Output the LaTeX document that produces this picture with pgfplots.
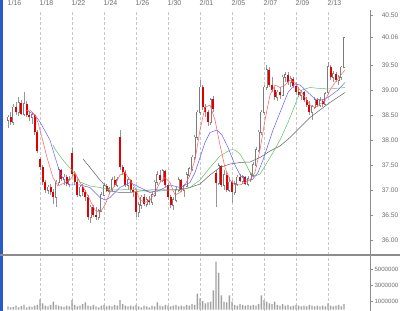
\documentclass[border=0pt]{standalone}
\usepackage{pgfplots}
\pgfplotsset{compat=1.18}
\usepackage{pgfplotstable}
\usepackage{fontspec}
\setmainfont{Liberation Sans}
\definecolor{candleRed}{RGB}{228,0,0}
\definecolor{wick}{RGB}{150,150,150}
\definecolor{upline}{RGB}{125,125,125}
\definecolor{maR}{RGB}{255,100,100}
\definecolor{maB}{RGB}{100,100,255}
\definecolor{maG}{RGB}{100,190,100}
\definecolor{maK}{RGB}{95,95,95}
\definecolor{gridc}{RGB}{200,200,200}
\definecolor{axc}{RGB}{140,140,140}
\definecolor{labc}{RGB}{110,110,110}
\definecolor{volc}{RGB}{160,160,160}
\definecolor{border}{RGB}{40,90,200}

\pgfplotstableread{
i o h l c v
0 38.40 38.50 38.24 38.45 0.40
1 38.45 38.55 38.30 38.35 0.30
2 38.35 38.72 38.30 38.65 0.35
3 38.65 38.75 38.50 38.55 0.50
4 38.55 38.86 38.48 38.74 0.30
5 38.74 38.80 38.50 38.52 0.45
6 38.52 38.96 38.48 38.72 0.60
7 38.72 38.78 38.45 38.50 0.30
8 38.50 38.58 38.38 38.45 0.40
9 38.45 38.55 38.32 38.50 0.35
10 38.50 38.52 38.10 38.15 0.50
11 38.15 38.20 37.74 37.78 0.60
12 37.62 37.66 37.40 37.45 1.30
13 37.45 37.50 37.10 37.15 0.80
14 37.15 37.20 36.94 37.00 0.50
15 37.00 37.10 36.92 37.05 0.40
16 37.05 37.12 36.90 36.95 0.60
17 36.95 37.02 36.72 36.85 1.00
18 36.85 37.20 36.66 37.15 0.60
19 37.15 37.46 37.10 37.40 0.50
20 37.40 37.42 37.18 37.22 0.40
21 37.22 37.32 37.10 37.25 0.35
22 37.25 37.30 37.08 37.12 0.50
23 37.12 37.28 37.05 37.20 0.40
24 37.74 37.84 37.28 37.32 1.20
25 37.32 37.38 37.10 37.15 0.60
26 37.15 37.22 36.85 36.90 0.40
27 36.90 37.10 36.85 37.05 0.50
28 37.05 37.12 36.88 36.95 0.70
29 36.95 37.00 36.78 36.85 0.90
30 36.85 36.90 36.40 36.45 0.50
31 36.45 36.70 36.34 36.65 0.40
32 36.65 36.70 36.45 36.50 0.60
33 36.50 36.66 36.40 36.45 0.40
34 36.45 36.62 36.40 36.58 0.30
35 36.58 36.95 36.55 36.90 0.50
36 36.90 37.14 36.88 37.08 0.60
37 37.08 37.12 36.95 36.98 0.40
38 36.98 37.05 36.92 37.02 0.50
39 37.02 37.26 36.98 37.20 0.40
40 37.20 37.28 37.05 37.10 0.60
41 37.10 37.25 37.05 37.20 0.50
42 38.06 38.20 37.40 37.45 1.20
43 37.45 37.50 37.30 37.35 0.70
44 37.35 37.40 37.05 37.10 0.50
45 37.10 37.25 37.00 37.20 0.40
46 37.20 37.22 36.95 37.00 0.50
47 37.00 37.05 36.85 36.95 0.40
48 36.95 37.00 36.46 36.55 0.60
49 36.55 36.75 36.46 36.70 0.40
50 36.70 36.90 36.62 36.85 0.30
51 36.85 36.92 36.68 36.72 0.50
52 36.72 36.85 36.66 36.80 0.40
53 36.80 36.88 36.70 36.75 0.30
54 36.75 36.95 36.70 36.90 0.50
55 36.90 37.20 36.85 37.15 0.40
56 37.15 37.38 37.10 37.30 0.90
57 37.30 37.40 37.15 37.20 0.50
58 37.20 37.42 37.15 37.38 0.40
59 37.38 37.40 37.05 37.10 0.60
60 37.10 37.14 36.80 36.85 0.50
61 36.85 36.90 36.64 36.70 0.40
62 36.70 36.85 36.60 36.80 0.50
63 36.80 37.05 36.75 37.00 0.60
64 37.00 37.26 36.95 37.20 0.40
65 37.20 37.22 36.95 37.00 0.50
66 37.00 37.12 36.86 37.08 0.40
67 37.08 37.35 37.05 37.30 0.60
68 37.30 37.46 37.25 37.42 0.50
69 37.42 37.70 37.38 37.65 0.70
70 37.65 38.10 37.60 38.05 0.60
71 38.05 38.60 38.00 38.55 2.00
72 38.55 39.20 38.50 39.05 1.40
73 39.05 39.10 38.60 38.65 1.10
74 38.65 38.72 38.45 38.55 0.80
75 38.55 38.60 38.28 38.35 0.90
76 38.35 38.84 38.30 38.80 1.00
77 38.82 38.88 38.55 38.62 2.40
78 37.34 37.40 36.66 37.14 6.00
79 37.14 37.54 37.10 37.48 4.60
80 37.48 37.50 37.05 37.10 1.80
81 37.10 37.40 37.00 37.30 1.00
82 37.30 37.35 36.95 37.00 0.90
83 37.00 37.25 36.95 37.15 1.80
84 37.15 37.20 36.74 36.95 1.00
85 36.95 37.18 36.90 37.12 0.60
86 37.12 37.30 37.08 37.25 0.50
87 37.25 37.32 37.15 37.18 0.70
88 37.18 37.30 37.12 37.26 0.60
89 37.26 37.28 37.10 37.12 0.50
90 37.12 37.28 37.08 37.22 0.60
91 37.22 37.35 37.15 37.30 0.50
92 37.30 37.55 37.25 37.50 0.60
93 37.50 37.85 37.45 37.80 0.50
94 37.80 38.20 37.75 38.15 0.70
95 38.15 38.60 38.10 38.55 1.80
96 38.55 39.10 38.50 39.05 1.20
97 39.05 39.50 39.00 39.40 1.00
98 39.40 39.45 39.05 39.10 0.80
99 39.10 39.25 38.95 39.00 0.70
100 39.00 39.05 38.80 38.85 1.00
101 38.85 39.00 38.78 38.95 0.60
102 38.95 39.05 38.82 38.90 0.50
103 38.90 39.30 38.88 39.25 0.70
104 39.25 39.36 39.15 39.30 0.50
105 39.30 39.35 39.10 39.15 0.60
106 39.15 39.28 39.05 39.22 0.40
107 39.22 39.26 39.04 39.08 0.50
108 39.08 39.16 38.90 38.95 0.60
109 38.95 39.05 38.85 38.90 0.50
110 38.90 39.00 38.80 38.95 0.40
111 38.95 38.98 38.75 38.80 0.50
112 38.80 38.85 38.66 38.70 0.40
113 38.70 38.78 38.50 38.55 0.60
114 38.55 38.70 38.40 38.66 0.50
115 38.66 38.86 38.62 38.80 0.40
116 38.80 38.84 38.66 38.70 0.50
117 38.70 38.85 38.66 38.78 0.40
118 38.78 38.82 38.66 38.72 0.50
119 38.72 38.96 38.70 38.92 0.40
120 38.95 39.55 38.92 39.46 0.80
121 39.46 39.50 39.20 39.25 0.50
122 39.25 39.38 39.15 39.32 0.40
123 39.32 39.36 39.15 39.20 0.50
124 39.20 39.30 39.10 39.25 0.60
125 39.25 39.48 39.20 39.45 0.40
126 39.46 40.06 39.44 40.04 0.70
}\candles

\begin{document}
\begin{tikzpicture}[x=1pt,y=1pt]
\useasboundingbox (0,0) rectangle (400,311);
\begin{axis}[
  at={(3pt,56pt)}, anchor=south west, scale only axis,
  width=367pt, height=245pt,
  xmin=-1.875, xmax=135.75, ymin=35.7, ymax=40.6,
  axis y line*=right, axis x line*=top,
  x axis line style={draw=none},
  y axis line style={draw=axc, line width=0.8pt},
  xtick={12,24,...,120},
  xticklabels={1/18,1/22,1/24,1/26,1/30,2/01,2/05,2/07,2/09,2/13},
  extra x ticks={0}, extra x tick labels={1/16},
  extra x tick style={grid=none},
  xtick style={draw=none},
  xticklabel style={anchor=south west, inner sep=0pt, yshift=1.5pt, xshift=-0.5pt,
    font=\fontsize{7}{7}\selectfont, text=labc},
  xmajorgrids,
  grid style={gridc, dash pattern=on 3pt off 2pt, line width=0.5pt},
  ytick={36,36.5,37,37.5,38,38.5,39,39.5,40.06,40.5},
  yticklabels={36.00,36.50,37.00,37.50,38.00,38.50,39.00,39.50,40.06,40.50},
  ymajorgrids=false,
  ytick style={draw=axc, line width=0.5pt},
  tick align=outside, major tick length=3pt,
  yticklabel style={anchor=east, inner sep=0pt, xshift=25.5pt,
    font=\fontsize{6.6}{7}\selectfont, text=labc},
  clip=true,
]
% wicks
\addplot[draw=none, forget plot, error bars/.cd, y dir=plus, y explicit, error mark=none,
  error bar style={draw=wick, line width=0.55pt, solid}]
  table[x=i, y=l, y error plus expr={\thisrow{h}-\thisrow{l}}] {\candles};
% up candle outlines
\addplot[draw=none, forget plot, error bars/.cd, y dir=plus, y explicit, error mark=none,
  error bar style={draw=upline, line width=2.1pt, solid}]
  table[x=i, y expr={\thisrow{o}-0.012},
    y error plus expr={\thisrow{c}>\thisrow{o} ? \thisrow{c}-\thisrow{o}+0.024 : 0}] {\candles};
% up candle fill
\addplot[draw=none, forget plot, error bars/.cd, y dir=plus, y explicit, error mark=none,
  error bar style={draw=white, line width=1.0pt, solid}]
  table[x=i, y=o,
    y error plus expr={\thisrow{c}>\thisrow{o} ? \thisrow{c}-\thisrow{o} : 0}] {\candles};
% down candles
\addplot[draw=none, forget plot, error bars/.cd, y dir=plus, y explicit, error mark=none,
  error bar style={draw=candleRed, line width=2.1pt, solid}]
  table[x=i, y=c,
    y error plus expr={\thisrow{o}>\thisrow{c} ? \thisrow{o}-\thisrow{c} : 0}] {\candles};
% moving averages
\addplot[maK, line width=0.5pt] coordinates {(28.125,37.62)(30.75,37.45)(34.5,37.2)(38.25,36.98)(42,36.95)(45.75,36.95)(49.5,36.98)(53.25,37.0)(57,37.0)(60.75,37.0)(64.5,37.0)(68.25,37.05)(72,37.12)(75.75,37.3)(79.5,37.45)(83.25,37.52)(87,37.55)(90.75,37.56)(94.5,37.65)(98.25,37.78)(102,37.88)(105.75,38.05)(109.5,38.25)(113.25,38.45)(117,38.6)(120.75,38.75)(126.375,38.95)};
\addplot[maG, line width=0.5pt] coordinates {(16.875,37.9)(17.625,37.82)(19.5,37.68)(21.375,37.55)(23.25,37.44)(25.125,37.32)(27,37.16)(30.75,37.08)(34.5,37.05)(38.25,37.0)(42,37.0)(45.75,37.02)(49.5,37.0)(53.25,36.96)(57,36.98)(60.75,37.0)(64.5,37.0)(68.25,37.05)(72,37.2)(75.75,37.45)(79.5,37.68)(83.25,37.8)(85.125,37.8)(87,37.72)(88.875,37.55)(90.75,37.35)(92.625,37.28)(94.5,37.32)(96.375,37.48)(98.25,37.65)(100.125,37.82)(102,38.0)(105,38.35)(107.625,38.7)(108.75,38.86)(110.25,39.0)(113.25,39.05)(117,39.03)(120.75,39.02)(126.375,39.05)};
\addplot[maB, line width=0.5pt] coordinates {(7.5,38.58)(10.125,38.5)(12,38.36)(15.75,38.0)(17.625,37.66)(19.5,37.34)(21.375,37.16)(23.25,37.1)(27,37.1)(30.75,37.05)(32.625,36.95)(34.5,36.85)(36.375,36.8)(38.25,36.85)(40.125,36.95)(42,37.05)(45.75,37.15)(49.5,37.05)(53.25,36.95)(57,37.0)(60.75,37.1)(64.5,37.05)(68.25,37.15)(70.125,37.35)(72,37.65)(73.875,37.95)(75.75,38.15)(78.375,38.2)(80.25,38.1)(82.5,37.85)(85.125,37.5)(87,37.3)(88.875,37.2)(91.5,37.2)(93.75,37.35)(95.625,37.6)(97.5,37.9)(99.375,38.2)(102,38.55)(105,38.95)(107.625,39.12)(109.5,39.1)(112.5,38.95)(115.125,38.82)(117.75,38.8)(120.75,38.88)(123.75,39.0)(126.375,39.15)};
\addplot[maR, line width=0.5pt] coordinates {(6.375,38.58)(8.25,38.6)(10.125,38.5)(11.25,38.35)(12.75,38.05)(14.625,37.65)(16.875,37.25)(18.75,37.08)(20.25,37.12)(23.25,37.2)(25.125,37.35)(27,37.15)(28.875,37.0)(30.75,36.8)(32.625,36.6)(34.5,36.55)(36.375,36.7)(38.25,36.95)(40.125,37.1)(42,37.3)(43.875,37.35)(45.75,37.2)(47.625,37.05)(49.5,36.8)(51.375,36.75)(53.25,36.8)(55.125,36.95)(57,37.15)(58.875,37.25)(60.75,37.15)(62.625,36.9)(64.5,36.95)(66.375,37.1)(68.25,37.3)(70.125,37.6)(72,38.2)(73.875,38.65)(75.75,38.7)(77.625,38.4)(79.5,37.9)(81.375,37.45)(83.25,37.2)(85.125,37.1)(87,37.1)(88.875,37.15)(90.75,37.2)(92.625,37.35)(94.5,37.8)(96.375,38.4)(98.25,38.9)(100.125,39.1)(102,39.05)(103.875,39.1)(105.75,39.2)(107.625,39.15)(109.5,39.0)(111.375,38.85)(113.25,38.7)(115.125,38.65)(117,38.72)(118.875,38.78)(120.75,39.0)(122.625,39.15)(124.5,39.28)(126.375,39.4)};
\end{axis}
\begin{axis}[
  at={(3pt,0pt)}, anchor=south west, scale only axis,
  width=367pt, height=55pt,
  xmin=-1.875, xmax=135.75, ymin=-0.1625, ymax=6.7125,
  axis y line*=right, axis x line*=bottom,
  x axis line style={draw=none},
  y axis line style={draw=axc, line width=0.8pt},
  xtick={12,24,...,120}, xticklabels={},
  xtick style={draw=none},
  xmajorgrids,
  grid style={gridc, dash pattern=on 3pt off 2pt, line width=0.5pt},
  ytick={1,3,5},
  yticklabels={1000000,3000000,5000000},
  ytick style={draw=axc, line width=0.5pt},
  tick align=outside, major tick length=3pt,
  yticklabel style={anchor=east, inner sep=0pt, xshift=25.5pt,
    font=\fontsize{6.1}{7}\selectfont, text=labc},
]
\addplot[ybar, bar width=1.4pt, bar shift=0pt, fill=volc, draw=none] table[x=i, y=v] {\candles};
\end{axis}
\fill[border] (0,0) rectangle (2.5,311);
\draw[axc, line width=2pt] (0,55.5) -- (400,55.5);
\end{tikzpicture}
\end{document}
